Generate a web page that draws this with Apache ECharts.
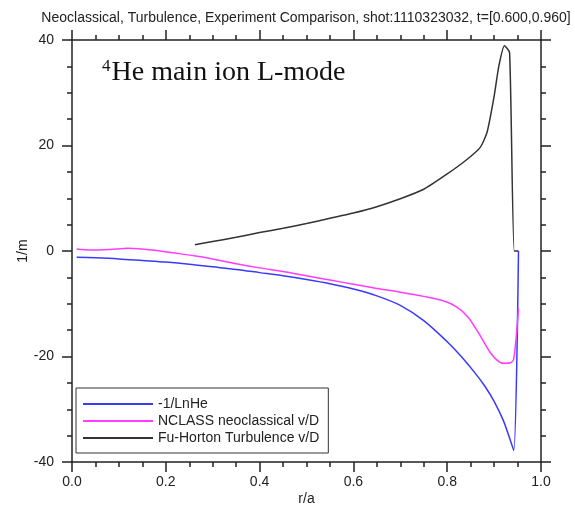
<!DOCTYPE html>
<html>
<head>
<meta charset="utf-8">
<script src="https://cdn.jsdelivr.net/npm/echarts@6/dist/echarts.min.js"></script>
<style>
  html, body { margin: 0; padding: 0; background: #fff; }
  #chart { width: 575px; height: 506px; }
</style>
</head>
<body>
<div id="chart"></div>
<script>
// Radial grid (r/a) and profile values, in 1/m
const lnHeR   = [0.01,0.05,0.1,0.15,0.2,0.25,0.3,0.35,0.4,0.45,0.5,0.55,0.6,0.65,0.7,0.75,0.8,0.83,0.86,0.88,0.9,0.92,0.935,0.942,0.952];
const lnHeVal = [-1.2,-1.3,-1.5,-1.8,-2.1,-2.5,-3.0,-3.5,-4.1,-4.7,-5.4,-6.2,-7.2,-8.5,-10.3,-13.2,-17.2,-20.0,-23.2,-25.6,-28.5,-32.2,-36.0,-37.8,0];

const nclassR   = [0.01,0.04,0.08,0.12,0.17,0.22,0.26,0.3,0.35,0.4,0.45,0.5,0.55,0.6,0.65,0.7,0.75,0.79,0.82,0.845,0.87,0.89,0.905,0.92,0.935,0.942,0.952];
const nclassVal = [0.4,0.2,0.3,0.5,0.2,-0.4,-0.9,-1.5,-2.4,-3.2,-3.9,-4.7,-5.5,-6.3,-7.1,-7.8,-8.6,-9.4,-10.6,-12.6,-16.0,-19.0,-20.6,-21.3,-21.2,-20.4,-10.9];

const fhR   = [0.262,0.3,0.35,0.4,0.45,0.5,0.55,0.6,0.65,0.7,0.75,0.8,0.84,0.87,0.885,0.9,0.91,0.922,0.933,0.943,0.952];
const fhVal = [1.2,1.8,2.6,3.5,4.3,5.2,6.2,7.2,8.4,9.9,11.7,14.6,17.2,19.6,22.5,29.3,35.0,38.9,37.6,0,0];

const seriesNames = ['-1/LnHe', 'NCLASS neoclassical v/D', 'Fu-Horton Turbulence v/D'];
const seriesColors = ['#3a3aff', '#ff3cff', '#333333'];

const pairs = (xs, ys) => xs.map((x, i) => [x, ys[i]]);

const sans = 'Liberation Sans, Arial, sans-serif';
const serif = 'Liberation Serif, Times New Roman, serif';
const tickFont = { fontFamily: sans, fontSize: 14, color: '#222' };
const frameLine = { show: true, onZero: false, lineStyle: { color: '#222', width: 1.5 } };
const majorTick = { show: true, inside: false, length: 10, lineStyle: { color: '#222', width: 1.5 } };
const minorTick = { show: true, splitNumber: 4, length: 5, lineStyle: { color: '#222', width: 1.5 } };

const chart = echarts.init(document.getElementById('chart'), null, { renderer: 'canvas' });

chart.setOption({
  animation: false,
  backgroundColor: '#fff',
  title: [
    {
      text: 'Neoclassical, Turbulence, Experiment Comparison, shot:1110323032, t=[0.600,0.960]',
      left: 301, top: 6, textAlign: 'center',
      textStyle: { fontFamily: sans, fontSize: 14, fontWeight: 'normal', color: '#222' }
    },
    {
      text: '{sup|4}{main|He main ion L-mode}',
      left: 97, top: 53,
      textStyle: {
        fontWeight: 'normal',
        rich: {
          sup: { fontFamily: serif, fontSize: 17, fontWeight: 'normal', color: '#111', verticalAlign: 'top', padding: [0, 1, 12, 0] },
          main: { fontFamily: serif, fontSize: 28, fontWeight: 'normal', color: '#111' }
        }
      }
    }
  ],
  grid: { left: 72, right: 34, top: 40, bottom: 44, containLabel: false, outerBoundsMode: 'none' },
  legend: {
    orient: 'vertical',
    left: 76, top: 388,
    icon: 'rect',
    itemWidth: 70, itemHeight: 2,
    itemGap: 3,
    itemTextGap: 5,
    padding: [9, 9, 8, 7],
    borderColor: '#333', borderWidth: 1,
    textStyle: { fontFamily: sans, fontSize: 14, color: '#222' },
    data: seriesNames
  },
  xAxis: [
    {
      type: 'value', position: 'bottom', min: 0, max: 1, interval: 0.2,
      name: 'r/a', nameLocation: 'middle', nameGap: 30, nameMoveOverlap: false,
      nameTextStyle: { fontFamily: sans, fontSize: 14, color: '#222' },
      axisLine: frameLine, axisTick: majorTick, minorTick: minorTick,
      splitLine: { show: false },
      axisLabel: Object.assign({ margin: 13, formatter: v => v.toFixed(1) }, tickFont)
    },
    {
      type: 'value', position: 'top', min: 0, max: 1, interval: 0.2,
      axisLine: frameLine, axisTick: majorTick, minorTick: minorTick,
      splitLine: { show: false }, axisLabel: { show: false }
    }
  ],
  yAxis: [
    {
      type: 'value', position: 'left', min: -40, max: 40, interval: 20,
      name: '1/m', nameLocation: 'middle', nameGap: 42, nameMoveOverlap: false,
      nameTextStyle: { fontFamily: sans, fontSize: 14, color: '#222' },
      axisLine: frameLine, axisTick: majorTick, minorTick: minorTick,
      splitLine: { show: false },
      axisLabel: Object.assign({ margin: 18 }, tickFont)
    },
    {
      type: 'value', position: 'right', min: -40, max: 40, interval: 20,
      axisLine: frameLine, axisTick: majorTick, minorTick: minorTick,
      splitLine: { show: false }, axisLabel: { show: false }
    }
  ],
  series: [
    { name: seriesNames[0], type: 'line', data: pairs(lnHeR, lnHeVal), smooth: 0.3, showSymbol: false,
      itemStyle: { color: seriesColors[0] }, lineStyle: { color: seriesColors[0], width: 1.5 } },
    { name: seriesNames[1], type: 'line', data: pairs(nclassR, nclassVal), smooth: 0.3, showSymbol: false,
      itemStyle: { color: seriesColors[1] }, lineStyle: { color: seriesColors[1], width: 1.5 } },
    { name: seriesNames[2], type: 'line', data: pairs(fhR, fhVal), smooth: 0.2, showSymbol: false,
      itemStyle: { color: seriesColors[2] }, lineStyle: { color: seriesColors[2], width: 1.5 } }
  ]
});
</script>
</body>
</html>
